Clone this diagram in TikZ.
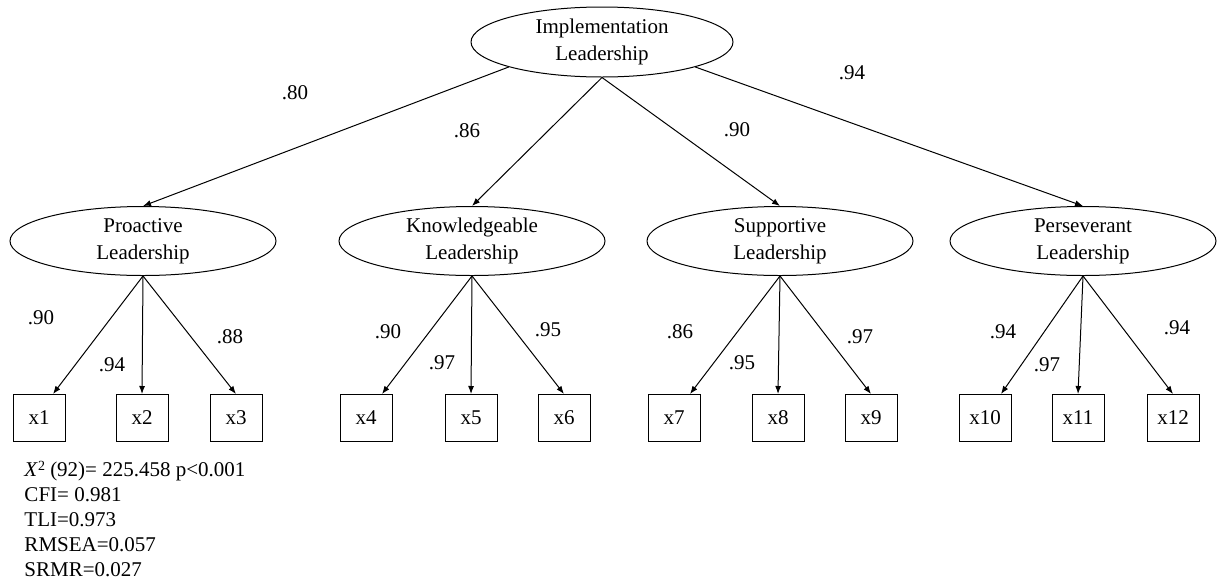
\documentclass[tikz,border=0pt]{standalone}
\usepackage{fontspec}
\setmainfont{Liberation Serif}
\usetikzlibrary{shapes,arrows.meta,positioning}

\begin{document}
\begin{tikzpicture}[
        x=0.5pt, y=-0.5pt,
        line width=0.5pt,
        font=\fontsize{10.5}{13.5}\selectfont,
        latent/.style={draw, ellipse, minimum width=133pt, minimum height=34.5pt, inner xsep=0pt, inner ysep=-8pt, align=center},
        indicator/.style={draw, rectangle, minimum width=26pt, minimum height=23.5pt, inner sep=0pt},
        loading/.style={inner sep=0pt},
        regarrow/.style={-{Latex[length=4pt,width=3pt]}}
    ]
        \useasboundingbox (0,0) rectangle (1218,584);

        % Level 1
        \node[latent, minimum width=131pt, minimum height=35pt] (IL) at (602,42) {Implementation\\Leadership};

        % Level 2
        \node[latent] (PL) at (143,241) {Proactive\\Leadership};
        \node[latent] (KL) at (472,241) {Knowledgeable\\Leadership};
        \node[latent] (SL) at (780,241) {Supportive\\Leadership};
        \node[latent] (VL) at (1083,241) {Perseverant\\Leadership};

        % Indicators
        \node[indicator] (x1) at (39,418) {x1};
        \node[indicator] (x2) at (142,418) {x2};
        \node[indicator] (x3) at (236,418) {x3};
        \node[indicator] (x4) at (366,418) {x4};
        \node[indicator] (x5) at (471,418) {x5};
        \node[indicator] (x6) at (564,418) {x6};
        \node[indicator] (x7) at (674,418) {x7};
        \node[indicator] (x8) at (778,418) {x8};
        \node[indicator] (x9) at (871,418) {x9};
        \node[indicator] (x10) at (985,418) {x10};
        \node[indicator] (x11) at (1078,418) {x11};
        \node[indicator] (x12) at (1173,418) {x12};

        % Second-order paths
        \draw[regarrow] (IL.195) -- (PL.north);
        \draw[regarrow] (IL.south) -- (KL.north);
        \draw[regarrow] (IL.south) -- (SL.north);
        \draw[regarrow] (IL.345) -- (VL.north);

        % First-order paths
        \draw[regarrow] (PL.south) -- ([xshift=7pt]x1.north);
        \draw[regarrow] (PL.south) -- (x2.north);
        \draw[regarrow] (PL.south) -- (x3.north);
        \draw[regarrow] (KL.south) -- ([xshift=8pt]x4.north);
        \draw[regarrow] (KL.south) -- (x5.north);
        \draw[regarrow] (KL.south) -- (x6.north);
        \draw[regarrow] (SL.south) -- ([xshift=8pt]x7.north);
        \draw[regarrow] (SL.south) -- (x8.north);
        \draw[regarrow] (SL.south) -- (x9.north);
        \draw[regarrow] (VL.south) -- ([xshift=8pt]x10.north);
        \draw[regarrow] (VL.south) -- (x11.north);
        \draw[regarrow] (VL.south) -- (x12.north);

        % Loadings
        \node[loading] (lPL) at (295,93) {.80};
        \node[loading] (lKL) at (467,131) {.86};
        \node[loading] (lSL) at (737,130) {.90};
        \node[loading] (lVL) at (852,73) {.94};

        \node[loading] (l1) at (41,318) {.90};
        \node[loading] (l2) at (112,365) {.94};
        \node[loading] (l3) at (230,337) {.88};
        \node[loading] (l4) at (388,332) {.90};
        \node[loading] (l5) at (442,363) {.97};
        \node[loading] (l6) at (548,330) {.95};
        \node[loading] (l7) at (680,332) {.86};
        \node[loading] (l8) at (742,363) {.95};
        \node[loading] (l9) at (860,337) {.97};
        \node[loading] (l10) at (1003,332) {.94};
        \node[loading] (l11) at (1047,365) {.97};
        \node[loading] (l12) at (1177,328) {.94};

        % Fit indices
        \node[anchor=north west, inner sep=0pt, align=left, font=\fontsize{10.5}{12.5}\selectfont] (fit) at (24,461)
            {\textit{X}{\fontsize{7}{7}\selectfont\raisebox{0.9ex}{2}} (92)= 225.458 p<0.001\\CFI= 0.981\\TLI=0.973\\RMSEA=0.057\\SRMR=0.027};
    \end{tikzpicture}
\end{document}
